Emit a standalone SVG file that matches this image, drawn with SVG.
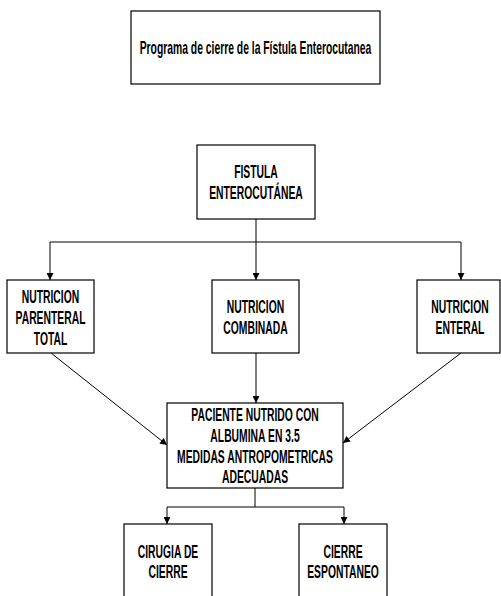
<svg xmlns="http://www.w3.org/2000/svg" width="501" height="596" viewBox="0 0 501 596">
<style>
.box{fill:#fff;stroke:#000;stroke-width:1.2}
.t{font-family:"Liberation Sans",Arial,sans-serif;font-weight:bold;font-size:18px;fill:#000;text-anchor:middle}
.c{fill:none;stroke:#000;stroke-width:1}
</style>
<defs>
<marker id="ah" viewBox="0 0 10 10" refX="10" refY="5" markerWidth="7" markerHeight="7" markerUnits="userSpaceOnUse" orient="auto">
<path d="M0,0 L10,5 L0,10 z" fill="#000"/>
</marker>
</defs>
<rect width="501" height="596" fill="#fff"/>
<g id="connectors">
<path class="c" d="M256,219 V242"/>
<path class="c" d="M50,242 H461"/>
<path class="c" d="M50,242 V280" marker-end="url(#ah)"/>
<path class="c" d="M256,242 V280" marker-end="url(#ah)"/>
<path class="c" d="M461,242 V280" marker-end="url(#ah)"/>
<path class="c" d="M51,353 L167,445" marker-end="url(#ah)"/>
<path class="c" d="M256,353 V403" marker-end="url(#ah)"/>
<path class="c" d="M461,353 L343,443" marker-end="url(#ah)"/>
<path class="c" d="M255,488 V507 M167,507 H344"/>
<path class="c" d="M167,507 V524" marker-end="url(#ah)"/>
<path class="c" d="M344,507 V524" marker-end="url(#ah)"/>
</g>
<g id="title">
<rect class="box" x="131" y="11" width="249" height="73"/>
<text class="t" transform="translate(255.5 0) scale(0.575 1)" x="0" y="54.5">Programa de cierre de la Fístula Enterocutanea</text>
</g>
<g id="fistula">
<rect class="box" x="197" y="145" width="118" height="74"/>
<text class="t" transform="translate(256 0) scale(0.575 1)"><tspan x="0" y="178.5">FISTULA</tspan><tspan x="0" y="199.5">ENTEROCUTÁNEA</tspan></text>
</g>
<g id="parenteral">
<rect class="box" x="7" y="280" width="87" height="73"/>
<text class="t" transform="translate(50.5 0) scale(0.575 1)"><tspan x="0" y="303">NUTRICION</tspan><tspan x="0" y="324.5">PARENTERAL</tspan><tspan x="0" y="345.5">TOTAL</tspan></text>
</g>
<g id="combinada">
<rect class="box" x="212" y="280" width="87" height="73"/>
<text class="t" transform="translate(255.5 0) scale(0.575 1)"><tspan x="0" y="313.5">NUTRICION</tspan><tspan x="0" y="334.5">COMBINADA</tspan></text>
</g>
<g id="enteral">
<rect class="box" x="417" y="280" width="83" height="73"/>
<text class="t" transform="translate(460 0) scale(0.575 1)"><tspan x="0" y="313.5">NUTRICION</tspan><tspan x="0" y="334.5">ENTERAL</tspan></text>
</g>
<g id="paciente">
<rect class="box" x="167" y="403" width="176" height="85"/>
<text class="t" transform="translate(255 0) scale(0.575 1)"><tspan x="0" y="421.5">PACIENTE NUTRIDO CON</tspan><tspan x="0" y="442.5">ALBUMINA EN 3.5</tspan><tspan x="0" y="463">MEDIDAS ANTROPOMETRICAS</tspan><tspan x="0" y="483">ADECUADAS</tspan></text>
</g>
<g id="cirugia">
<rect class="box" x="124" y="524" width="88" height="90"/>
<text class="t" transform="translate(168 0) scale(0.575 1)"><tspan x="0" y="558.5">CIRUGIA DE</tspan><tspan x="0" y="578.5">CIERRE</tspan></text>
</g>
<g id="espontaneo">
<rect class="box" x="299" y="524" width="88" height="90"/>
<text class="t" transform="translate(343 0) scale(0.575 1)"><tspan x="0" y="558.5">CIERRE</tspan><tspan x="0" y="578.5">ESPONTANEO</tspan></text>
</g>
</svg>
